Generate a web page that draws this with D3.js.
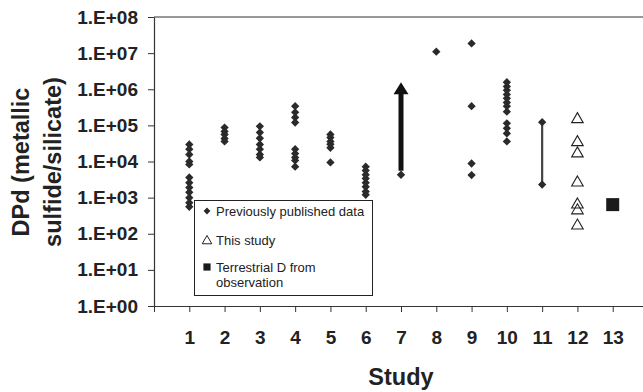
<!DOCTYPE html>
<html>
<head>
<meta charset="utf-8">
<script src="https://cdn.jsdelivr.net/npm/d3@7"></script>
<style>
  html, body { margin: 0; padding: 0; background: #fff; }
  svg { display: block; font-family: "Liberation Sans", Arial, sans-serif; }
</style>
</head>
<body>
<svg id="chart" width="643" height="392"></svg>
<script>
// ---- Data ----
const studies = [1, 2, 3, 4, 5, 6, 7, 8, 9, 10, 11, 12, 13];
const xTickValues = [0, 1, 2, 3, 4, 5, 6, 7, 8, 9, 10, 11, 12, 13];
const yTickValues = [1e0, 1e1, 1e2, 1e3, 1e4, 1e5, 1e6, 1e7, 1e8];
const yTickLabels = ["1.E+00", "1.E+01", "1.E+02", "1.E+03", "1.E+04", "1.E+05", "1.E+06", "1.E+07", "1.E+08"];

// Previously published data, per study
const study1 = [2.96e4, 2.2e4, 1.56e4, 1.0e4, 8.3e3, 3.6e3, 2.6e3, 1.9e3, 1.4e3, 1.0e3, 7.2e2, 5.6e2];
const study2 = [8.7e4, 6.8e4, 5.6e4, 4.3e4, 3.6e4];
const study3 = [9.4e4, 6.4e4, 4.4e4, 2.96e4, 2.2e4, 1.56e4, 1.3e4];
const study4 = [3.4e5, 2.3e5, 1.66e5, 1.2e5, 2.2e4, 1.66e4, 1.3e4, 1.07e4, 7.2e3];
const study5 = [5.6e4, 4.6e4, 3.6e4, 3.0e4, 2.4e4, 9.4e3];
const study6 = [7.2e3, 5.6e3, 4.3e3, 3.4e3, 2.6e3, 2.0e3, 1.47e3, 1.2e3];
const study7 = [4.3e3];
const study8 = [1.1e7];
const study9 = [1.86e7, 3.4e5, 8.8e3, 4.2e3];
const study10 = [1.56e6, 1.2e6, 9.4e5, 7.2e5, 5.6e5, 4.3e5, 3.4e5, 2.4e5, 1.14e5, 8.3e4, 6.0e4, 3.6e4];
const study11 = [1.23e5, 2.3e3];

// This study (study 12) and terrestrial observation (study 13)
const thisStudy = [1.47e5, 3.4e4, 1.66e4, 2.6e3, 6.4e2, 4.4e2, 1.67e2];
const terrestrial = [6.4e2];

// Arrow for study 7 (lower bound) and range bar for study 11
const arrow7 = [4.3e3, 1.56e6];
const range11 = [2.3e3, 1.23e5];

const legendLabels = ["Previously published data", "This study", "Terrestrial D from", "observation"];

// ---- Build table ----
const publishedByStudy = [study1, study2, study3, study4, study5, study6, study7, study8, study9, study10, study11];
const published = [];
publishedByStudy.forEach((vals, i) => vals.forEach(v => published.push({ study: studies[i], value: v })));

// ---- Layout ----
const svg = d3.select("#chart");
const x = d3.scaleLinear().domain([0, 14]).range([154, 648]);
const y = d3.scaleLog().domain([1e0, 1e8]).range([306, 17]);

const defs = svg.append("defs");
defs.append("filter").attr("id", "soft")
  .attr("x", "-50%").attr("y", "-50%").attr("width", "200%").attr("height", "200%")
  .append("feGaussianBlur").attr("stdDeviation", 0.6);

// top border line
svg.append("line")
  .attr("x1", x(0)).attr("x2", 643)
  .attr("y1", y(1e8)).attr("y2", y(1e8))
  .attr("stroke", "#333").attr("stroke-width", 1.2);

// Y axis
const yAxis = svg.append("g")
  .attr("transform", `translate(${x(0)},0)`)
  .call(d3.axisLeft(y).tickValues(yTickValues)
    .tickFormat((d, i) => yTickLabels[i]).tickSize(6).tickSizeOuter(0));
yAxis.select(".domain").attr("stroke", "#333").attr("stroke-width", 1.2);
yAxis.selectAll(".tick line").attr("stroke", "#333");
yAxis.selectAll(".tick text")
  .attr("x", -16)
  .attr("fill", "#222")
  .style("font-size", "19px").style("font-weight", "bold")
  .style("font-family", "'Liberation Sans', Arial, sans-serif");

// X axis
const xAxis = svg.append("g")
  .attr("transform", `translate(0,${y(1)})`)
  .call(d3.axisBottom(x).tickValues(xTickValues)
    .tickFormat(d => (d === 0 ? "" : String(d))).tickSize(6).tickSizeOuter(0));
xAxis.select(".domain").attr("stroke", "#333").attr("stroke-width", 1.2)
  .attr("d", `M${x(0)},0.5H643`);
xAxis.selectAll(".tick line").attr("stroke", "#333");
xAxis.selectAll(".tick text")
  .attr("y", 25)
  .attr("fill", "#222")
  .style("font-size", "19px").style("font-weight", "bold")
  .style("font-family", "'Liberation Sans', Arial, sans-serif");

// Axis titles
svg.append("text")
  .attr("x", x(7)).attr("y", 385)
  .attr("text-anchor", "middle")
  .attr("fill", "#222")
  .style("font-size", "23.5px").style("font-weight", "bold")
  .text("Study");

const yTitle = svg.append("text")
  .attr("transform", `translate(0,162) rotate(-90)`)
  .attr("text-anchor", "middle")
  .attr("fill", "#222")
  .style("font-size", "23.5px").style("font-weight", "bold");
yTitle.append("tspan").attr("x", 0).attr("y", 29).text("DPd (metallic");
yTitle.append("tspan").attr("x", 0).attr("y", 61).text("sulfide/silicate)");

// Range bar study 11
svg.append("line")
  .attr("x1", x(11)).attr("x2", x(11))
  .attr("y1", y(range11[1])).attr("y2", y(range11[0]))
  .attr("stroke", "#444").attr("stroke-width", 2.2);

// Arrow study 7
const ax = x(7);
const tipY = y(arrow7[1]);
const baseY = y(arrow7[0]) - 4;
const headH = 12, headW = 15, shaftW = 5;
svg.append("rect")
  .attr("x", ax - shaftW / 2).attr("y", tipY + headH - 1)
  .attr("width", shaftW).attr("height", baseY - (tipY + headH - 1))
  .attr("fill", "#111");
svg.append("path")
  .attr("d", `M${ax},${tipY}L${ax + headW / 2},${tipY + headH}L${ax - headW / 2},${tipY + headH}Z`)
  .attr("fill", "#111");

// Published diamonds
const diamond = d3.symbol().type(d3.symbolDiamond2).size(44);
svg.append("g").attr("filter", "url(#soft)")
  .selectAll("path").data(published).join("path")
  .attr("transform", d => `translate(${x(d.study)},${y(d.value)})`)
  .attr("d", diamond)
  .attr("fill", "#2a2a2a");

// This study triangles
const tri = d3.symbol().type(d3.symbolTriangle).size(58);
svg.append("g").selectAll("path").data(thisStudy).join("path")
  .attr("transform", d => `translate(${x(12)},${y(d)})`)
  .attr("d", tri)
  .attr("fill", "none").attr("stroke", "#222").attr("stroke-width", 1.1);

// Terrestrial square
const sq = d3.symbol().type(d3.symbolSquare).size(169);
svg.append("g").selectAll("path").data(terrestrial).join("path")
  .attr("transform", d => `translate(${x(13)},${y(d)})`)
  .attr("d", sq)
  .attr("fill", "#1a1a1a");

// Legend
const lg = svg.append("g");
lg.append("rect")
  .attr("x", 194.5).attr("y", 200.5).attr("width", 178).attr("height", 95)
  .attr("fill", "#fff").attr("stroke", "#222").attr("stroke-width", 1);
lg.append("path")
  .attr("transform", "translate(207,211)")
  .attr("d", d3.symbol().type(d3.symbolDiamond2).size(30))
  .attr("fill", "#2a2a2a").attr("filter", "url(#soft)");
lg.append("path")
  .attr("transform", "translate(207,241)")
  .attr("d", d3.symbol().type(d3.symbolTriangle).size(40))
  .attr("fill", "none").attr("stroke", "#222").attr("stroke-width", 1);
lg.append("path")
  .attr("transform", "translate(207,267)")
  .attr("d", d3.symbol().type(d3.symbolSquare).size(52))
  .attr("fill", "#1a1a1a");
const lgY = [215.5, 245, 272, 287];
legendLabels.forEach((t, i) => {
  lg.append("text")
    .attr("x", 216).attr("y", lgY[i])
    .attr("fill", "#222")
    .style("font-size", "13px")
    .text(t);
});
</script>
</body>
</html>
